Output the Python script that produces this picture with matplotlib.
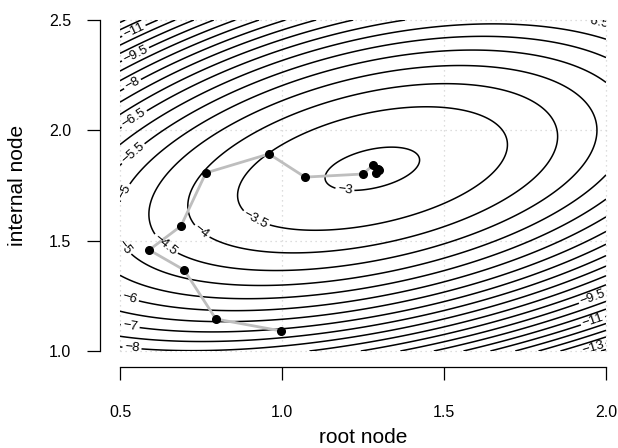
import numpy as np
import matplotlib
matplotlib.use("Agg")
import matplotlib.pyplot as plt

plt.rcParams["font.family"] = ["Liberation Sans", "DejaVu Sans"]

# ---- contour readings from the picture: (root node, internal node, log-likelihood level)
obs_root = [1.142, 1.435, 1.29, 1.29,
            0.870, 0.923, 1.713, 1.29, 1.29,
            0.756, 0.716, 1.867, 1.29,
            0.645, 0.593, 1.99, 1.29,
            0.515, 0.515, 1.29, 2.0, 2.0,
            0.531, 1.29, 0.5, 2.0,
            0.531, 1.29, 1.559, 2.0,
            0.54, 1.29, 1.333, 1.93, 2.0,
            0.531, 2.0,
            0.537, 0.537, 2.0,
            2.0,
            0.546, 2.0,
            2.0, 2.0,
            0.546, 2.0,
            2.0, 2.0,
            2.0, 2.0,
            1.108, 1.259, 1.377, 1.485, 1.559, 1.639, 1.71, 1.778, 1.84, 1.90, 1.963,
            1.295]
obs_internal = [1.80, 1.86, 1.91, 1.72,
                1.684, 1.607, 1.92, 2.04, 1.557,
                1.548, 1.684, 1.98, 2.146,
                1.49, 1.66, 2.0, 2.237,
                1.47, 1.72, 2.318, 2.237, 1.74,
                1.911, 2.377, 1.358, 1.625,
                1.245, 2.43, 2.5, 1.625,
                2.06, 2.477, 2.5, 2.5, 2.46,
                1.109, 1.50,
                2.214, 1.014, 1.40,
                1.31,
                2.35, 1.254,
                1.222, 1.186,
                2.441, 1.15,
                1.118, 1.085,
                1.055, 1.027,
                1.0, 1.0, 1.0, 1.0, 1.0, 1.0, 1.0, 1.0, 1.0, 1.0, 1.0,
                1.825]
obs_level = [-3, -3, -3, -3,
             -3.5, -3.5, -3.5, -3.5, -3.5,
             -4, -4, -4, -4,
             -4.5, -4.5, -4.5, -4.5,
             -5, -5, -5, -5, -5,
             -5.5, -5.5, -5.5, -6,
             -6, -6, -6, -6,
             -6.5, -6.5, -6.5, -6.5, -6.5,
             -7, -7,
             -8, -8, -8,
             -9,
             -9.5, -9.5,
             -10, -10.5,
             -11, -11,
             -11.5, -12,
             -12.5, -13,
             -8.5, -9, -9.5, -10, -10.5, -11, -11.5, -12, -12.5, -13, -13.5,
             -2.9]
obs_weight = [3, 3, 3, 3] + [1] * 58 + [3]

# ---- optimisation path (dots joined by grey line)
path_root = [0.997, 0.796, 0.698, 0.590, 0.688, 0.765, 0.960, 1.071, 1.250, 1.281, 1.290, 1.299, 1.295]
path_internal = [1.091, 1.145, 1.367, 1.458, 1.566, 1.807, 1.893, 1.788, 1.802, 1.843, 1.807, 1.820, 1.825]

contour_levels = [-14, -13.5, -13, -12.5, -12, -11.5, -11, -10.5, -10, -9.5, -9, -8.5,
                  -8, -7.5, -7, -6.5, -6, -5.5, -5, -4.5, -4, -3.5, -3]
x_ticks = [0.5, 1.0, 1.5, 2.0]
y_ticks = [1.0, 1.5, 2.0, 2.5]

# label anchor spots seen in the picture
label_spots = [(0.546, 2.441), (0.546, 2.35), (0.537, 2.214), (0.54, 2.06), (0.531, 1.911),
               (0.515, 1.72), (0.515, 1.471), (0.531, 1.245), (0.531, 1.109), (0.537, 1.014),
               (0.645, 1.49), (0.756, 1.548), (0.923, 1.607), (1.194, 1.73),
               (1.965, 2.48), (1.96, 1.24), (1.957, 1.15), (1.957, 1.027)]


def design(x, y):
    u = np.asarray(x, float) - 1.3
    v = np.asarray(y, float) - 1.8
    return np.stack([np.ones_like(u), u, v, u * u, u * v, v * v,
                     u ** 3, u * u * v, u * v * v, v ** 3], axis=-1)


w = np.sqrt(np.asarray(obs_weight, float))
coef, *_ = np.linalg.lstsq(design(obs_root, obs_internal) * w[:, None],
                           np.asarray(obs_level, float) * w, rcond=None)

gx = np.linspace(0.5, 2.0, 301)
gy = np.linspace(1.0, 2.5, 301)
GX, GY = np.meshgrid(gx, gy)
GZ = design(GX, GY) @ coef

fig = plt.figure(figsize=(6.18, 4.48), dpi=100)
ax = fig.add_axes([120 / 618, 1 - 351 / 448, 486 / 618, 331 / 448])
ax.set_xlim(0.5, 2.0)
ax.set_ylim(1.0, 2.5)

for v in x_ticks:
    ax.axvline(v, color="#D3D3D3", lw=0.9, ls=(0, (1, 3)), zorder=0, clip_on=False)
for v in y_ticks:
    ax.axhline(v, color="#D3D3D3", lw=0.9, ls=(0, (1, 3)), zorder=0, clip_on=False)

cs = ax.contour(GX, GY, GZ, levels=contour_levels, colors="black", linewidths=1.1,
                linestyles="solid", negative_linestyles="solid", zorder=2)
ax.clabel(cs, inline=True, fontsize=9.5, manual=label_spots, inline_spacing=2,
          fmt=lambda v: f"{v:g}".replace("-", "\u2212"))

ax.plot(path_root, path_internal, color="#BEBEBE", lw=2.0, zorder=3)
ax.plot(path_root, path_internal, "o", color="black", ms=5.5, zorder=4)

for s in ["top", "right"]:
    ax.spines[s].set_visible(False)
ax.spines["bottom"].set_position(("outward", 11.5))
ax.spines["left"].set_position(("outward", 14.5))
ax.spines["bottom"].set_bounds(0.5, 2.0)
ax.spines["left"].set_bounds(1.0, 2.5)
for s in ["bottom", "left"]:
    ax.spines[s].set_linewidth(0.9)
ax.set_xticks(x_ticks)
ax.set_yticks(y_ticks)
ax.set_xticklabels([f"{t:.1f}" for t in x_ticks], fontsize=11.5)
ax.set_yticklabels([f"{t:.1f}" for t in y_ticks], fontsize=11.5)
ax.tick_params(axis="x", direction="out", length=9.5, width=0.9, pad=18)
ax.tick_params(axis="y", direction="out", length=9.5, width=0.9, pad=11)

fig.text(363 / 618, 1 - 437 / 448, "root node", ha="center", va="center", fontsize=15)
fig.text(18 / 618, 1 - 185 / 448, "internal node", ha="center", va="center", rotation=90, fontsize=15)

fig.savefig("out.png", dpi=100)
